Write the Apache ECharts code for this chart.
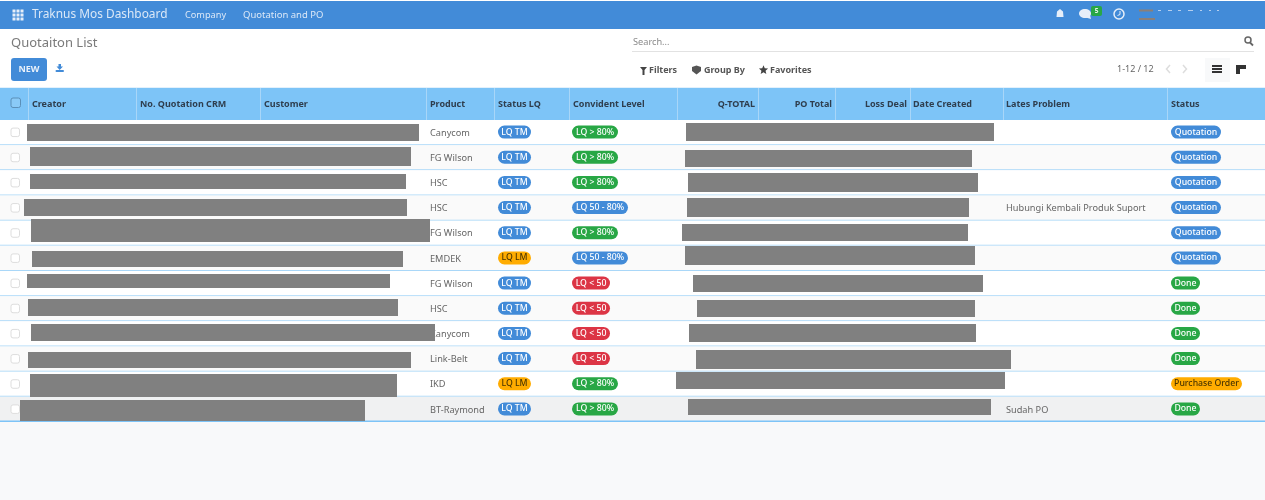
<!doctype html>
<html>
<head>
<meta charset="utf-8">
<title>Quotaiton List</title>
<style>html,body{margin:0;padding:0;background:#f8f9fa}#main{width:1265px;height:500px}</style>
</head>
<body>
<div id="main"></div>
<script src="https://cdn.jsdelivr.net/npm/echarts@6/dist/echarts.min.js"></script>
<script>
// table content
var columnNames = ['Creator', 'No. Quotation CRM', 'Customer', 'Product', 'Status LQ', 'Convident Level', 'Q-TOTAL', 'PO Total', 'Loss Deal', 'Date Created', 'Lates Problem', 'Status'];
var products = ['Canycom', 'FG Wilson', 'HSC', 'HSC', 'FG Wilson', 'EMDEK', 'FG Wilson', 'HSC', 'Canycom', 'Link-Belt', 'IKD', 'BT-Raymond'];
var statusLq = ['LQ TM', 'LQ TM', 'LQ TM', 'LQ TM', 'LQ TM', 'LQ LM', 'LQ TM', 'LQ TM', 'LQ TM', 'LQ TM', 'LQ LM', 'LQ TM'];
var confidence = ['LQ > 80%', 'LQ > 80%', 'LQ > 80%', 'LQ 50 - 80%', 'LQ > 80%', 'LQ 50 - 80%', 'LQ < 50', 'LQ < 50', 'LQ < 50', 'LQ < 50', 'LQ > 80%', 'LQ > 80%'];
var latesProblem = ['', '', '', 'Hubungi Kembali Produk Suport', '', '', '', '', '', '', '', 'Sudah PO'];
var statuses = ['Quotation', 'Quotation', 'Quotation', 'Quotation', 'Quotation', 'Quotation', 'Done', 'Done', 'Done', 'Done', 'Purchase Order', 'Done'];
var rowNames = products.map(function (p, i) { return i; });

// grey boxes covering the hidden cells: x from, x to, y from, y to
var redactions = [
	[27, 419, 124, 141], [30, 411, 147, 166], [30, 406, 174, 189], [24, 407, 199, 216],
	[31, 430, 219, 242], [32, 403, 251, 267], [27, 390, 274, 288], [28, 398, 299, 316],
	[31, 435, 324, 341], [28, 411, 352, 368], [30, 397, 374, 397], [20, 365, 400, 421],
	[686, 994, 123, 141], [685, 972, 150, 167], [688, 978, 173, 192], [687, 969, 198, 217],
	[682, 968, 224, 241], [685, 975, 246, 265], [693, 983, 275, 292], [697, 975, 300, 317],
	[689, 976, 324, 342], [696, 1011, 350, 369], [676, 1005, 372, 389], [688, 991, 399, 415]
];

var BLUE = '#428bd8', HEAD = '#7dc4f7', LINE = '#a9d7f8';
var FONT = '"Noto Sans", sans-serif';
var badgeColors = {
	'LQ TM': [BLUE, '#fff', 33], 'LQ LM': ['#ffac00', '#4a3500', 33],
	'LQ > 80%': ['#28a745', '#fff', 46], 'LQ 50 - 80%': [BLUE, '#fff', 56], 'LQ < 50': ['#dc3545', '#fff', 38],
	'Quotation': [BLUE, '#fff', 50], 'Done': ['#28a745', '#fff', 29], 'Purchase Order': ['#ffac00', '#4a3500', 71]
};
var headX = [32, 140, 264, 430, 498, 573, 755, 832, 907, 913, 1006, 1171];
var headAlign = ['left', 'left', 'left', 'left', 'left', 'left', 'right', 'right', 'right', 'left', 'left', 'left'];
var headSep = [28, 136, 260, 426, 494, 569, 677, 758, 835, 910, 1003, 1167];

function t(x, y, s, size, color, weight, align) {
	return { type: 'text', x: x, y: y, silent: true, style: { text: s, fontSize: size, fontFamily: FONT, fill: color, fontWeight: weight || 400, align: align || 'left', verticalAlign: 'middle' } };
}
function r(x, y, w, h, fill, rad, stroke) {
	return { type: 'rect', silent: true, shape: { x: x, y: y, width: w, height: h, r: rad || 0 }, style: { fill: fill, stroke: stroke || null } };
}
function poly(pts, fill) {
	return { type: 'polygon', silent: true, shape: { points: pts }, style: { fill: fill } };
}
function circle(cx, cy, rad, fill, stroke, lw) {
	return { type: 'circle', silent: true, shape: { cx: cx, cy: cy, r: rad }, style: { fill: fill, stroke: stroke || null, lineWidth: lw || 1 } };
}
function star(cx, cy, o, fill) {
	var pts = [];
	for (var i = 0; i < 10; i++) {
		var a = -Math.PI / 2 + i * Math.PI / 5, d = i % 2 ? o * 0.45 : o;
		pts.push([cx + d * Math.cos(a), cy + d * Math.sin(a)]);
	}
	return poly(pts, fill);
}

// page chrome
var chrome = [
	r(0, 0, 1265, 29, BLUE), r(0, 0, 1265, 1, '#fff'), r(0, 29, 1265, 59, '#fff'),
	t(32, 14.5, 'Traknus Mos Dashboard', 11.9, '#dbe8f7'),
	t(185, 15, 'Company', 9.2, '#dbe8f7'),
	t(243, 15, 'Quotation and PO', 9.5, '#dbe8f7'),
	t(11, 43.5, 'Quotaiton List', 13, '#7a7a7a'),
	r(11, 58, 36, 23, BLUE, 3),
	t(29, 69.5, 'NEW', 9, '#e8f0fa', 700, 'center'),
	poly([[58.5, 64], [61, 64], [61, 66.5], [63, 66.5], [59.7, 70], [56.5, 66.5], [58.5, 66.5]], BLUE),
	r(55.5, 70, 8.5, 2, BLUE, 1),
	t(633, 42, 'Search...', 9.2, '#8a8a8a'),
	r(632, 51, 622, 1, '#e2e2e2'),
	circle(1248, 40, 3, null, '#666', 1.5),
	{ type: 'line', silent: true, shape: { x1: 1250, y1: 42.5, x2: 1253, y2: 45.5 }, style: { stroke: '#666', lineWidth: 1.8 } },
	poly([[640, 67], [647, 67], [644.5, 70], [644.5, 75], [642.5, 75], [642.5, 70]], '#444'),
	t(649, 70.5, 'Filters', 9, '#555', 700),
	poly([[696.5, 65.5], [701, 67], [701, 71], [696.5, 74.5], [692, 71], [692, 67]], '#555'),
	t(704, 70.5, 'Group By', 9, '#555', 700),
	star(763.5, 70, 4.8, '#444'),
	t(770, 70.5, 'Favorites', 9, '#555', 700),
	t(1117, 69.5, '1-12 / 12', 9, '#666'),
	{ type: 'polyline', silent: true, shape: { points: [[1170, 65], [1166.5, 69], [1170, 73]] }, style: { stroke: '#ddd', lineWidth: 1.5, fill: null } },
	{ type: 'polyline', silent: true, shape: { points: [[1183, 65], [1186.5, 69], [1183, 73]] }, style: { stroke: '#ddd', lineWidth: 1.5, fill: null } },
	r(1205, 58, 25, 24, '#f8f9fa'),
	r(1212, 65, 10, 2, '#333'), r(1212, 68, 10, 2, '#333'), r(1212, 71, 10, 2, '#333'),
	r(1236, 65, 4, 9, '#333'), r(1240, 65, 6, 4, '#333'),
	// top right icons
	poly([[1060, 9], [1063, 11.5], [1063.5, 17], [1056.5, 17], [1057, 11.5]], '#e6eef9'),
	{ type: 'ellipse', silent: true, shape: { cx: 1085, cy: 13.5, rx: 6, ry: 4.5 }, style: { fill: '#e6eef9' } },
	poly([[1084, 17], [1091, 19], [1090, 15]], '#e6eef9'),
	r(1091, 6, 11, 10, '#28a745', 2),
	t(1096.5, 11, '5', 6.5, '#e6f5e9', 700, 'center'),
	circle(1119, 14, 5, null, '#e6eef9', 1.5),
	{ type: 'polyline', silent: true, shape: { points: [[1120, 11], [1120, 14.5], [1117.5, 15.5]] }, style: { stroke: '#e6eef9', lineWidth: 1, fill: null } },
	r(1139, 9.5, 14, 2, '#8a7f78'), r(1158, 10, 3, 1, '#b5cfee'), r(1168, 10, 4, 1, '#b5cfee'), r(1178, 10, 3, 1, '#b5cfee'),
	r(1188, 10, 5, 1, '#b5cfee'), r(1200, 10, 2, 1, '#b5cfee'), r(1209, 10, 2, 1, '#b5cfee'), r(1217, 10, 2, 1, '#b5cfee'),
	r(1139, 18, 16, 2, '#8a7f78'),
	// table header
	r(0, 87, 1265, 33, HEAD),
	r(0, 87, 1265, 1, '#e3f1fc'),
	r(11, 98, 9.5, 9.5, 'rgba(255,255,255,0.1)', 2, '#5b8fb8')
];
for (var i = 0; i < 12; i++) {
	chrome.push(r(headSep[i], 88, 1, 32, '#a8d6f8'));
	chrome.push(t(headX[i], 104, columnNames[i], 9, '#2f3e4e', 700, headAlign[i]));
}
for (var gx = 0; gx < 3; gx++) {
	for (var gy = 0; gy < 3; gy++) {
		chrome.push(r(12.5 + gx * 4, 9.5 + gy * 4, 3, 3, '#e6eef9'));
	}
}

function renderRow(params, api) {
	var idx = api.value(0);
	var c = api.coord([0, idx]);
	var h = api.size([0, 1])[1];
	var top = c[1] - h / 2;
	var fill = idx === 11 ? '#f0f1f2' : (idx % 2 ? '#fafafa' : '#fff');
	var last = idx === 11;
	return {
		type: 'group',
		children: [
			{ type: 'rect', shape: { x: 0, y: top, width: 1265, height: h }, style: { fill: fill } },
			{ type: 'rect', shape: { x: 0, y: top + h - (last ? 1.5 : 1), width: 1265, height: last ? 1.5 : 1 }, style: { fill: last ? HEAD : LINE } },
			{ type: 'rect', shape: { x: 11, y: c[1] - 4.5, width: 8.5, height: 8.5, r: 2 }, style: { fill: '#fff', stroke: '#ddd', lineWidth: 1 } }
		]
	};
}
function renderText(params, api) {
	var c = api.coord([api.value(0), api.value(1)]);
	return { type: 'text', x: c[0], y: c[1] + 0.5, style: { text: api.value(2), fontSize: 9.2, fontFamily: FONT, fill: '#666', verticalAlign: 'middle' } };
}
function renderBadge(params, api) {
	var c = api.coord([api.value(0), api.value(1)]);
	var name = api.value(2);
	var b = badgeColors[name];
	return {
		type: 'group',
		children: [
			{ type: 'rect', shape: { x: c[0], y: c[1] - 7, width: b[2], height: 13, r: 6.5 }, style: { fill: b[0] } },
			{ type: 'text', x: c[0] + b[2] / 2, y: c[1] - 0.5, style: { text: name, fontSize: 8.7, fontFamily: FONT, fontWeight: 500, fill: b[1], align: 'center', verticalAlign: 'middle' } }
		]
	};
}
function renderMask(params, api) {
	var x0 = api.coord([api.value(0), 0])[0];
	var x1 = api.coord([api.value(1), 0])[0];
	return { type: 'rect', shape: { x: x0, y: api.value(2), width: x1 - x0, height: api.value(3) - api.value(2) }, style: { fill: '#808080' } };
}

function cellData(x, values) {
	return values.map(function (v, i) { return [x, i, v]; }).filter(function (d) { return d[2] !== ''; });
}
var dims = ['x', 'y', { name: 'v', type: 'ordinal' }];
var chart = echarts.init(document.getElementById('main'), null, { renderer: 'canvas' });
chart.setOption({
	animation: false,
	backgroundColor: '#f8f9fa',
	graphic: { elements: chrome },
	grid: { left: 0, right: 0, top: 120, height: 302 },
	xAxis: { type: 'value', min: 0, max: 1265, show: false },
	yAxis: { type: 'category', inverse: true, data: rowNames, show: false },
	series: [
		{ type: 'custom', silent: true, renderItem: renderRow, data: rowNames.map(function (i) { return [i]; }), encode: { y: 0 }, z: 1 },
		{ type: 'custom', silent: true, renderItem: renderText, dimensions: dims, data: cellData(430, products), encode: { x: 0, y: 1 }, z: 2 },
		{ type: 'custom', silent: true, renderItem: renderText, dimensions: dims, data: cellData(1006, latesProblem), encode: { x: 0, y: 1 }, z: 2 },
		{ type: 'custom', silent: true, renderItem: renderBadge, dimensions: dims, data: cellData(498, statusLq), encode: { x: 0, y: 1 }, z: 3 },
		{ type: 'custom', silent: true, renderItem: renderBadge, dimensions: dims, data: cellData(572, confidence), encode: { x: 0, y: 1 }, z: 3 },
		{ type: 'custom', silent: true, renderItem: renderBadge, dimensions: dims, data: cellData(1171, statuses), encode: { x: 0, y: 1 }, z: 3 },
		{ type: 'custom', silent: true, renderItem: renderMask, data: redactions, encode: { x: [0, 1] }, z: 4, clip: false }
	]
});
</script>
</body>
</html>
